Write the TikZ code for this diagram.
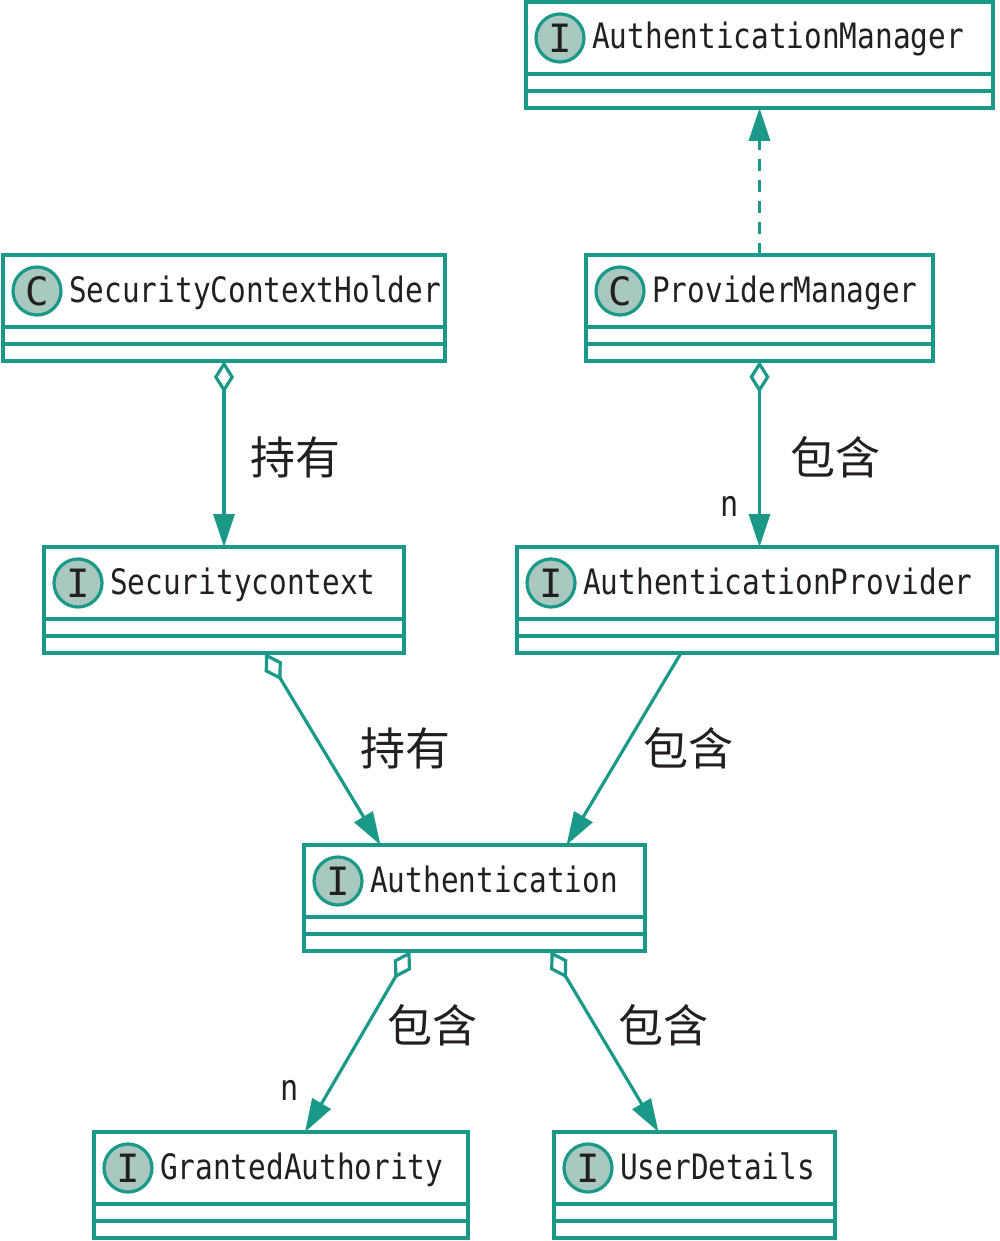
\documentclass[tikz,border=0pt]{standalone}
\usepackage{fontspec}
\usetikzlibrary{arrows.meta, positioning}

\newfontfamily\umlmono[FakeStretch=0.84]{DejaVu Sans Mono}
\newfontfamily\iconmono{DejaVu Sans Mono}
\newfontfamily\cjkfont{Noto Sans CJK SC}

\definecolor{umlteal}{RGB}{26,152,136}
\definecolor{umlicon}{RGB}{168,200,192}
\definecolor{umlink}{RGB}{35,31,32}

% class box: name, left, top, width, letter, title
\newcommand{\umlclass}[6]{%
  \node[classbox, minimum width=#4pt] (#1) at (#2,#3) {};
  \draw[classline] ([yshift=-72pt]#1.north west) -- ([yshift=-72pt]#1.north east);
  \draw[classline] ([yshift=-89pt]#1.north west) -- ([yshift=-89pt]#1.north east);
  \node[classicon] (#1-icon) at ([xshift=34pt,yshift=-36pt]#1.north west) {#5};
  \node[classname] (#1-name) at ([xshift=32pt,yshift=-11pt]#1-icon.center) {#6};
}

\begin{document}
\begin{tikzpicture}[
  x=1pt, y=-1pt,
  every node/.style={text=umlink},
  classbox/.style={draw=umlteal, line width=3.2pt, fill=white, anchor=north west,
    minimum height=106pt, inner sep=0pt, outer sep=0pt},
  classline/.style={draw=umlteal, line width=3.2pt},
  classicon/.style={circle, draw=umlteal, fill=umlicon, line width=3.2pt,
    minimum size=48pt, inner sep=0pt, font=\fontsize{39pt}{40pt}\iconmono},
  classname/.style={anchor=base west, inner sep=0pt, font=\fontsize{35pt}{38pt}\umlmono},
  tag/.style={inner sep=0pt, font=\fontsize{45pt}{48pt}\cjkfont},
  mult/.style={inner sep=0pt, font=\fontsize{36pt}{38pt}\umlmono},
  link/.style={draw=umlteal, line width=3.2pt, -{Triangle[length=33pt,width=21pt]}},
  holds/.style={link, {Diamond[open,length=32pt,width=20pt]}-{Triangle[length=33pt,width=21pt]}},
  realizes/.style={link, dash pattern=on 12pt off 9pt}
]
\useasboundingbox (0,0) rectangle (1000,1241);

% Nodes
\umlclass{manager}{526}{2}{467}{I}{AuthenticationManager}
\umlclass{holder}{3}{255}{442}{C}{SecurityContextHolder}
\umlclass{provmgr}{586}{255}{347}{C}{ProviderManager}
\umlclass{context}{44}{547}{360}{I}{Securitycontext}
\umlclass{provider}{517}{547}{480}{I}{AuthenticationProvider}
\umlclass{auth}{304}{845}{341}{I}{Authentication}
\umlclass{granted}{94}{1132}{374}{I}{GrantedAuthority}
\umlclass{details}{554}{1132}{281}{I}{UserDetails}

% Connectors
\draw[realizes] (provmgr.north) -- (provmgr.north |- manager.south);
\draw[holds] (holder.south) -- (context.north);
\draw[holds] (provmgr.south) -- (provmgr.south |- provider.north);
\draw[holds] ([xshift=41pt]context.south) -- ([xshift=-94pt]auth.north);
\draw[link] ([xshift=-76pt]provider.south) -- ([xshift=92pt]auth.north);
\draw[holds] ([xshift=-64pt]auth.south) -- ([xshift=24pt]granted.north);
\draw[holds] ([xshift=76pt]auth.south) -- ([xshift=-36pt]details.north);

% Labels
\node[tag] (holdA) at (295,457) {持有};
\node[tag] (hasA) at (835,457) {包含};
\node[mult] (nA) at (730,506) {n};
\node[tag] (holdB) at (405,748) {持有};
\node[tag] (hasB) at (688,748) {包含};
\node[tag] (hasC) at (432,1025) {包含};
\node[mult] (nB) at (290,1090) {n};
\node[tag] (hasD) at (663,1025) {包含};

\end{tikzpicture}
\end{document}
